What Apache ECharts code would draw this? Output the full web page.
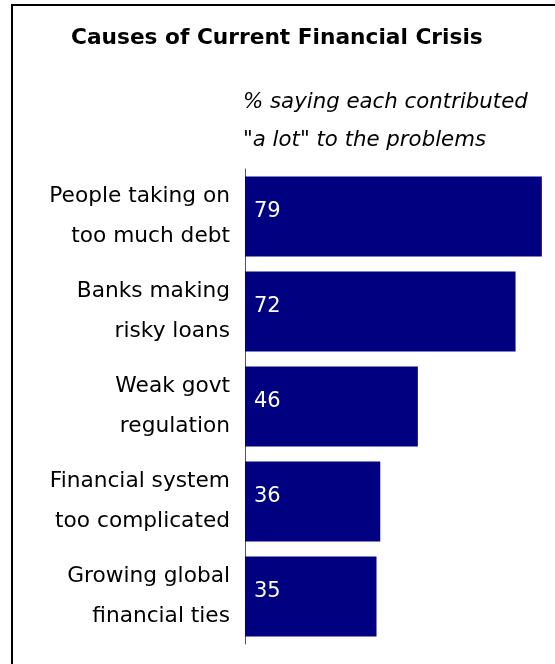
<!DOCTYPE html>
<html>
<head>
<meta charset="utf-8">
<script src="https://cdn.jsdelivr.net/npm/echarts@6/dist/echarts.min.js"></script>
<style>
  html, body { margin: 0; padding: 0; background: #fff; }
  #chart { width: 555px; height: 664px; }
</style>
</head>
<body>
<div id="chart"></div>
<script>
// Causes of the current financial crisis, % saying each contributed "a lot"
const categories = [
  'People taking on\ntoo much debt',
  'Banks making\nrisky loans',
  'Weak govt\nregulation',
  'Financial system\ntoo complicated',
  'Growing global\nfinancial ties'
];
const values = [79, 72, 46, 36, 35];

const FONT = '"DejaVu Sans", sans-serif';

const chart = echarts.init(document.getElementById('chart'), null, { renderer: 'canvas' });

chart.setOption({
  animation: false,
  backgroundColor: '#ffffff',
  title: [
    {
      text: 'Causes of Current Financial Crisis',
      left: 71,
      top: 27,
      padding: 0,
      textStyle: { fontFamily: FONT, fontSize: 21.7, fontWeight: 'bold', color: '#000' }
    },
    {
      text: '% saying each contributed\n"a lot" to the problems',
      left: 243,
      top: 84,
      padding: 0,
      textStyle: {
        fontFamily: FONT, fontSize: 21.3, fontStyle: 'italic', fontWeight: 'normal',
        color: '#000', lineHeight: 37.6
      }
    }
  ],
  graphic: [
    {
      type: 'rect',
      shape: { x: 12, y: 5, width: 600, height: 700 },
      style: { fill: 'none', stroke: '#000', lineWidth: 2 },
      silent: true
    }
  ],
  grid: { left: 245, top: 169, width: 300.6, height: 475, containLabel: false },
  xAxis: {
    type: 'value',
    min: 0,
    max: 80,
    show: false
  },
  yAxis: {
    type: 'category',
    data: categories,
    inverse: true,
    axisLine: { show: true, lineStyle: { color: '#555', width: 1 } },
    axisTick: { show: false },
    axisLabel: {
      margin: 15,
      align: 'right',
      fontFamily: FONT,
      fontSize: 21.7,
      lineHeight: 40,
      color: '#000'
    },
    splitLine: { show: false }
  },
  series: [
    {
      type: 'bar',
      data: values,
      barCategoryGap: '16%',
      itemStyle: { color: '#000080' },
      label: {
        show: true,
        position: 'insideLeft',
        distance: 9,
        offset: [0, -5],
        fontFamily: FONT,
        fontSize: 21,
        color: '#fff'
      }
    }
  ]
});
</script>
</body>
</html>
